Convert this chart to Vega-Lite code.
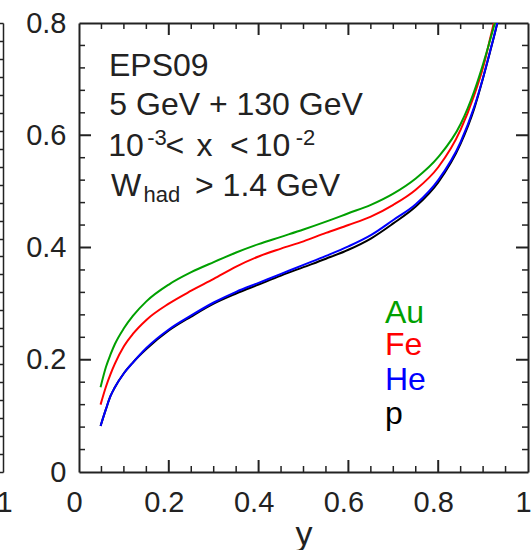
{
  "$schema": "https://vega.github.io/schema/vega-lite/v6.json",
  "width": 449,
  "height": 449,
  "autosize": {"type": "none"},
  "padding": {"left": 79, "top": 23, "right": 4, "bottom": 78},
  "background": "white",
  "config": {
    "view": {"stroke": null, "fill": null},
    "font": "Liberation Sans",
    "axis": {"grid": false, "domainColor": "#222", "tickColor": "#222", "labelColor": "#222", "titleColor": "#222", "labelFont": "Liberation Sans", "titleFont": "Liberation Sans", "labelFlush": false, "labelOverlap": false}
  },
  "datasets": {
    "curves": [
      {"nucleus": "p", "y": 0.048, "ratio": 0.082}, {"nucleus": "p", "y": 0.06, "ratio": 0.112}, {"nucleus": "p", "y": 0.07, "ratio": 0.135}, {"nucleus": "p", "y": 0.08, "ratio": 0.151}, {"nucleus": "p", "y": 0.10, "ratio": 0.176}, {"nucleus": "p", "y": 0.12, "ratio": 0.195}, {"nucleus": "p", "y": 0.15, "ratio": 0.219}, {"nucleus": "p", "y": 0.20, "ratio": 0.252}, {"nucleus": "p", "y": 0.25, "ratio": 0.277}, {"nucleus": "p", "y": 0.30, "ratio": 0.300}, {"nucleus": "p", "y": 0.35, "ratio": 0.318}, {"nucleus": "p", "y": 0.40, "ratio": 0.334}, {"nucleus": "p", "y": 0.45, "ratio": 0.350}, {"nucleus": "p", "y": 0.50, "ratio": 0.365}, {"nucleus": "p", "y": 0.55, "ratio": 0.380}, {"nucleus": "p", "y": 0.60, "ratio": 0.396}, {"nucleus": "p", "y": 0.65, "ratio": 0.416}, {"nucleus": "p", "y": 0.70, "ratio": 0.443}, {"nucleus": "p", "y": 0.75, "ratio": 0.473}, {"nucleus": "p", "y": 0.80, "ratio": 0.516}, {"nucleus": "p", "y": 0.85, "ratio": 0.585}, {"nucleus": "p", "y": 0.88, "ratio": 0.647}, {"nucleus": "p", "y": 0.90, "ratio": 0.702}, {"nucleus": "p", "y": 0.915, "ratio": 0.747}, {"nucleus": "p", "y": 0.93, "ratio": 0.794}, {"nucleus": "p", "y": 0.94, "ratio": 0.830},
      {"nucleus": "He", "y": 0.048, "ratio": 0.082}, {"nucleus": "He", "y": 0.06, "ratio": 0.112}, {"nucleus": "He", "y": 0.07, "ratio": 0.135}, {"nucleus": "He", "y": 0.08, "ratio": 0.151}, {"nucleus": "He", "y": 0.10, "ratio": 0.176}, {"nucleus": "He", "y": 0.12, "ratio": 0.195}, {"nucleus": "He", "y": 0.15, "ratio": 0.221}, {"nucleus": "He", "y": 0.20, "ratio": 0.254}, {"nucleus": "He", "y": 0.25, "ratio": 0.279}, {"nucleus": "He", "y": 0.30, "ratio": 0.302}, {"nucleus": "He", "y": 0.35, "ratio": 0.321}, {"nucleus": "He", "y": 0.40, "ratio": 0.337}, {"nucleus": "He", "y": 0.45, "ratio": 0.353}, {"nucleus": "He", "y": 0.50, "ratio": 0.369}, {"nucleus": "He", "y": 0.55, "ratio": 0.385}, {"nucleus": "He", "y": 0.60, "ratio": 0.402}, {"nucleus": "He", "y": 0.65, "ratio": 0.422}, {"nucleus": "He", "y": 0.70, "ratio": 0.449}, {"nucleus": "He", "y": 0.75, "ratio": 0.477}, {"nucleus": "He", "y": 0.80, "ratio": 0.520}, {"nucleus": "He", "y": 0.85, "ratio": 0.588}, {"nucleus": "He", "y": 0.88, "ratio": 0.650}, {"nucleus": "He", "y": 0.90, "ratio": 0.703}, {"nucleus": "He", "y": 0.915, "ratio": 0.748}, {"nucleus": "He", "y": 0.93, "ratio": 0.795}, {"nucleus": "He", "y": 0.94, "ratio": 0.830},
      {"nucleus": "Fe", "y": 0.048, "ratio": 0.120}, {"nucleus": "Fe", "y": 0.06, "ratio": 0.152}, {"nucleus": "Fe", "y": 0.07, "ratio": 0.174}, {"nucleus": "Fe", "y": 0.08, "ratio": 0.193}, {"nucleus": "Fe", "y": 0.10, "ratio": 0.224}, {"nucleus": "Fe", "y": 0.12, "ratio": 0.246}, {"nucleus": "Fe", "y": 0.15, "ratio": 0.271}, {"nucleus": "Fe", "y": 0.20, "ratio": 0.300}, {"nucleus": "Fe", "y": 0.25, "ratio": 0.323}, {"nucleus": "Fe", "y": 0.30, "ratio": 0.344}, {"nucleus": "Fe", "y": 0.35, "ratio": 0.366}, {"nucleus": "Fe", "y": 0.40, "ratio": 0.384}, {"nucleus": "Fe", "y": 0.45, "ratio": 0.398}, {"nucleus": "Fe", "y": 0.50, "ratio": 0.411}, {"nucleus": "Fe", "y": 0.55, "ratio": 0.426}, {"nucleus": "Fe", "y": 0.60, "ratio": 0.440}, {"nucleus": "Fe", "y": 0.65, "ratio": 0.455}, {"nucleus": "Fe", "y": 0.70, "ratio": 0.476}, {"nucleus": "Fe", "y": 0.75, "ratio": 0.503}, {"nucleus": "Fe", "y": 0.80, "ratio": 0.543}, {"nucleus": "Fe", "y": 0.85, "ratio": 0.610}, {"nucleus": "Fe", "y": 0.88, "ratio": 0.671}, {"nucleus": "Fe", "y": 0.90, "ratio": 0.721}, {"nucleus": "Fe", "y": 0.915, "ratio": 0.770}, {"nucleus": "Fe", "y": 0.93, "ratio": 0.822}, {"nucleus": "Fe", "y": 0.94, "ratio": 0.860},
      {"nucleus": "Au", "y": 0.048, "ratio": 0.151}, {"nucleus": "Au", "y": 0.06, "ratio": 0.187}, {"nucleus": "Au", "y": 0.07, "ratio": 0.209}, {"nucleus": "Au", "y": 0.08, "ratio": 0.228}, {"nucleus": "Au", "y": 0.10, "ratio": 0.256}, {"nucleus": "Au", "y": 0.12, "ratio": 0.278}, {"nucleus": "Au", "y": 0.15, "ratio": 0.304}, {"nucleus": "Au", "y": 0.20, "ratio": 0.334}, {"nucleus": "Au", "y": 0.25, "ratio": 0.356}, {"nucleus": "Au", "y": 0.30, "ratio": 0.374}, {"nucleus": "Au", "y": 0.35, "ratio": 0.391}, {"nucleus": "Au", "y": 0.40, "ratio": 0.406}, {"nucleus": "Au", "y": 0.45, "ratio": 0.419}, {"nucleus": "Au", "y": 0.50, "ratio": 0.432}, {"nucleus": "Au", "y": 0.55, "ratio": 0.446}, {"nucleus": "Au", "y": 0.60, "ratio": 0.461}, {"nucleus": "Au", "y": 0.65, "ratio": 0.476}, {"nucleus": "Au", "y": 0.70, "ratio": 0.496}, {"nucleus": "Au", "y": 0.75, "ratio": 0.523}, {"nucleus": "Au", "y": 0.80, "ratio": 0.561}, {"nucleus": "Au", "y": 0.85, "ratio": 0.620}, {"nucleus": "Au", "y": 0.88, "ratio": 0.678}, {"nucleus": "Au", "y": 0.90, "ratio": 0.727}, {"nucleus": "Au", "y": 0.915, "ratio": 0.768}, {"nucleus": "Au", "y": 0.93, "ratio": 0.812}, {"nucleus": "Au", "y": 0.94, "ratio": 0.848}
    ],
    "xmajor": [{"pos": 0.2}, {"pos": 0.4}, {"pos": 0.6}, {"pos": 0.8}],
    "xminor": [{"pos": 0.05}, {"pos": 0.1}, {"pos": 0.15}, {"pos": 0.25}, {"pos": 0.3}, {"pos": 0.35}, {"pos": 0.45}, {"pos": 0.5}, {"pos": 0.55}, {"pos": 0.65}, {"pos": 0.7}, {"pos": 0.75}, {"pos": 0.85}, {"pos": 0.9}, {"pos": 0.95}],
    "ymajor": [{"pos": 0.2}, {"pos": 0.4}, {"pos": 0.6}],
    "yminor": [{"pos": 0.04}, {"pos": 0.08}, {"pos": 0.12}, {"pos": 0.16}, {"pos": 0.24}, {"pos": 0.28}, {"pos": 0.32}, {"pos": 0.36}, {"pos": 0.44}, {"pos": 0.48}, {"pos": 0.52}, {"pos": 0.56}, {"pos": 0.64}, {"pos": 0.68}, {"pos": 0.72}, {"pos": 0.76}],
    "maintext": [
      {"label": "EPS09", "y": 0.0668, "ratio": 0.7055},
      {"label": "5 GeV + 130 GeV", "y": 0.0675, "ratio": 0.636},
      {"label": "10", "y": 0.065, "ratio": 0.5628},
      {"label": "<", "y": 0.1925, "ratio": 0.5628},
      {"label": "x", "y": 0.2615, "ratio": 0.5628},
      {"label": "<", "y": 0.3363, "ratio": 0.5628},
      {"label": "10", "y": 0.3915, "ratio": 0.5628},
      {"label": "W", "y": 0.0713, "ratio": 0.4914},
      {"label": "> 1.4 GeV", "y": 0.2584, "ratio": 0.4914}
    ],
    "smalltext": [
      {"label": "-3", "y": 0.1521, "ratio": 0.5824},
      {"label": "-2", "y": 0.4826, "ratio": 0.5824},
      {"label": "had", "y": 0.1437, "ratio": 0.4813}
    ],
    "legendtext": [
      {"nucleus": "Au", "y": 0.6815, "ratio": 0.2654},
      {"nucleus": "Fe", "y": 0.6815, "ratio": 0.2078},
      {"nucleus": "He", "y": 0.6815, "ratio": 0.1454},
      {"nucleus": "p", "y": 0.6815, "ratio": 0.0856}
    ]
  },
  "data": {"name": "curves"},
  "layer": [
    {
      "mark": {"type": "line", "strokeWidth": 2, "interpolate": "monotone", "clip": true},
      "encoding": {
        "x": {"field": "y", "type": "quantitative", "scale": {"domain": [0, 1], "nice": false, "zero": false},
          "axis": {"orient": "bottom", "values": [0, 0.2, 0.4, 0.6, 0.8, 1], "format": "~g", "ticks": false, "domainWidth": 2, "labelPadding": 16, "labelFontSize": 29, "labelOffset": -5, "title": "y", "titleFontSize": 34, "titleFontWeight": "normal", "titlePadding": 0}},
        "y": {"field": "ratio", "type": "quantitative", "scale": {"domain": [0, 0.8], "nice": false, "zero": false},
          "axis": {"orient": "left", "values": [0, 0.2, 0.4, 0.6, 0.8], "format": "~g", "ticks": false, "domainWidth": 2, "labelPadding": 13, "labelFontSize": 29, "title": null}},
        "color": {"field": "nucleus", "type": "nominal", "scale": {"domain": ["Au", "Fe", "He", "p"], "range": ["#00a000", "#ff0000", "#0000ff", "#000000"]}, "legend": null}
      }
    },
    {
      "mark": {"type": "point", "opacity": 0},
      "encoding": {
        "x": {"field": "y", "type": "quantitative", "axis": {"orient": "top", "values": [0, 1], "labels": false, "ticks": false, "domain": true, "domainWidth": 2, "title": null}},
        "y": {"field": "ratio", "type": "quantitative", "axis": {"orient": "right", "values": [0, 0.8], "labels": false, "ticks": false, "domain": true, "domainWidth": 2, "title": null}}
      }
    },
    {
      "mark": {"type": "point", "opacity": 0},
      "encoding": {
        "x": {"field": "y", "type": "quantitative", "axis": {"orient": "bottom", "values": [0], "labelExpr": "'1'", "ticks": false, "domain": false, "labelPadding": 16, "labelFontSize": 29, "labelOffset": -75, "title": null}},
        "y": {"field": "ratio", "type": "quantitative", "axis": {"orient": "left", "offset": 76, "values": [0, 0.032, 0.064, 0.096, 0.128, 0.16, 0.192, 0.224, 0.256, 0.288, 0.32, 0.352, 0.384, 0.416, 0.448, 0.48, 0.512, 0.544, 0.576, 0.608, 0.64, 0.672, 0.704, 0.736, 0.768, 0.8], "labels": false, "domain": true, "domainWidth": 1.5, "tickSize": 8, "tickWidth": 1.5, "title": null}}
      }
    },
    {
      "data": {"name": "xmajor"},
      "mark": {"type": "rule", "color": "#222", "strokeWidth": 2},
      "encoding": {
        "x": {"field": "pos", "type": "quantitative", "axis": null},
        "y": {"datum": 0, "type": "quantitative", "axis": null},
        "y2": {"datum": 0.0214}
      }
    },
    {
      "data": {"name": "xmajor"},
      "mark": {"type": "rule", "color": "#222", "strokeWidth": 2},
      "encoding": {
        "x": {"field": "pos", "type": "quantitative", "axis": null},
        "y": {"datum": 0.8, "type": "quantitative", "axis": null},
        "y2": {"datum": 0.7786}
      }
    },
    {
      "data": {"name": "xminor"},
      "mark": {"type": "rule", "color": "#222", "strokeWidth": 1.5},
      "encoding": {
        "x": {"field": "pos", "type": "quantitative", "axis": null},
        "y": {"datum": 0, "type": "quantitative", "axis": null},
        "y2": {"datum": 0.0107}
      }
    },
    {
      "data": {"name": "xminor"},
      "mark": {"type": "rule", "color": "#222", "strokeWidth": 1.5},
      "encoding": {
        "x": {"field": "pos", "type": "quantitative", "axis": null},
        "y": {"datum": 0.8, "type": "quantitative", "axis": null},
        "y2": {"datum": 0.7893}
      }
    },
    {
      "data": {"name": "ymajor"},
      "mark": {"type": "rule", "color": "#222", "strokeWidth": 2},
      "encoding": {
        "y": {"field": "pos", "type": "quantitative", "axis": null},
        "x": {"datum": 0, "type": "quantitative", "axis": null},
        "x2": {"datum": 0.0267}
      }
    },
    {
      "data": {"name": "ymajor"},
      "mark": {"type": "rule", "color": "#222", "strokeWidth": 2},
      "encoding": {
        "y": {"field": "pos", "type": "quantitative", "axis": null},
        "x": {"datum": 1, "type": "quantitative", "axis": null},
        "x2": {"datum": 0.9733}
      }
    },
    {
      "data": {"name": "yminor"},
      "mark": {"type": "rule", "color": "#222", "strokeWidth": 1.5},
      "encoding": {
        "y": {"field": "pos", "type": "quantitative", "axis": null},
        "x": {"datum": 0, "type": "quantitative", "axis": null},
        "x2": {"datum": 0.0134}
      }
    },
    {
      "data": {"name": "yminor"},
      "mark": {"type": "rule", "color": "#222", "strokeWidth": 1.5},
      "encoding": {
        "y": {"field": "pos", "type": "quantitative", "axis": null},
        "x": {"datum": 1, "type": "quantitative", "axis": null},
        "x2": {"datum": 0.9866}
      }
    },
    {
      "data": {"name": "maintext"},
      "mark": {"type": "text", "align": "left", "baseline": "alphabetic", "fontSize": 32, "font": "Liberation Sans", "color": "#222"},
      "encoding": {
        "x": {"field": "y", "type": "quantitative", "axis": null},
        "y": {"field": "ratio", "type": "quantitative", "axis": null},
        "text": {"field": "label"}
      }
    },
    {
      "data": {"name": "smalltext"},
      "mark": {"type": "text", "align": "left", "baseline": "alphabetic", "fontSize": 22, "font": "Liberation Sans", "color": "#222"},
      "encoding": {
        "x": {"field": "y", "type": "quantitative", "axis": null},
        "y": {"field": "ratio", "type": "quantitative", "axis": null},
        "text": {"field": "label"}
      }
    },
    {
      "data": {"name": "legendtext"},
      "mark": {"type": "text", "align": "left", "baseline": "alphabetic", "fontSize": 32, "font": "Liberation Sans"},
      "encoding": {
        "x": {"field": "y", "type": "quantitative", "axis": null},
        "y": {"field": "ratio", "type": "quantitative", "axis": null},
        "text": {"field": "nucleus"},
        "color": {"field": "nucleus", "type": "nominal", "legend": null}
      }
    }
  ],
  "resolve": {"axis": {"x": "independent", "y": "independent"}}
}
